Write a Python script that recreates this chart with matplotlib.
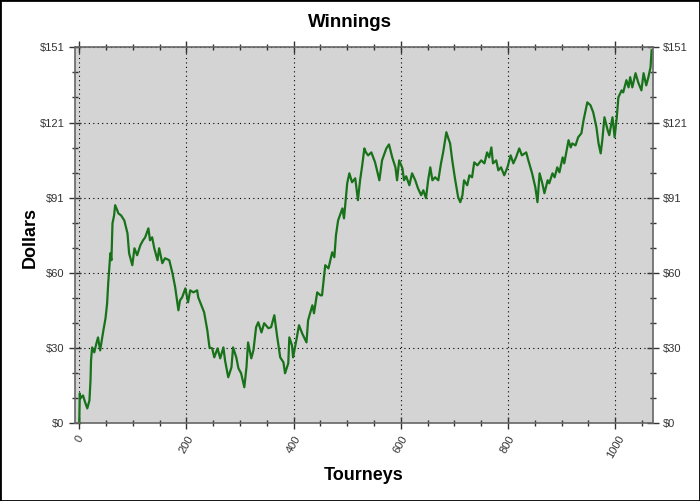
import matplotlib
matplotlib.use("Agg")
import matplotlib.pyplot as plt
from matplotlib.ticker import MultipleLocator, AutoMinorLocator, FuncFormatter
from matplotlib.patches import Rectangle
import numpy as np

# values
tourneys = [0, 1, 2, 7, 11, 15, 19, 21, 22, 24, 28, 32, 35, 39, 45, 49, 52, 54, 58, 60,
            62, 65, 67, 71, 73, 78, 84, 90, 93, 99, 103, 108, 114, 119, 123, 129, 132, 136, 140, 146,
            149, 155, 160, 168, 174, 179, 185, 188, 192, 198, 203, 207, 213, 220, 222, 230, 233, 239, 243, 248,
            252, 258, 263, 269, 272, 278, 284, 287, 293, 297, 302, 308, 312, 315, 321, 325, 330, 334, 340, 345,
            353, 358, 364, 369, 375, 381, 384, 390, 392, 397, 399, 405, 410, 416, 424, 427, 435, 438, 444, 450,
            453, 459, 465, 472, 476, 479, 483, 491, 494, 500, 504, 509, 515, 520, 524, 528, 532, 535, 539, 545,
            552, 560, 565, 573, 578, 584, 590, 593, 597, 603, 606, 610, 616, 621, 627, 632, 638, 642, 647, 651,
            655, 659, 664, 670, 675, 679, 685, 688, 692, 696, 701, 707, 711, 715, 718, 724, 728, 733, 737, 743,
            750, 756, 761, 765, 769, 772, 778, 782, 787, 793, 799, 805, 810, 815, 821, 826, 834, 838, 845, 851,
            855, 859, 864, 868, 874, 877, 883, 887, 892, 896, 902, 905, 913, 917, 920, 926, 931, 937, 941, 948,
            954, 959, 965, 969, 973, 976, 980, 986, 989, 995, 999, 1003, 1006, 1012, 1015, 1021, 1025, 1028, 1032, 1038,
            1043, 1049, 1053, 1058, 1062, 1066, 1068]
dollars = [0, 12.0, 10.0, 11.2, 8.4, 6.0, 9.2, 17.3, 25.3, 30.5, 28.5, 32.1, 34.5, 29.3, 37.3, 42.2, 48.2, 56.2, 68.3, 65.5,
           80.3, 83.5, 87.6, 85.5, 84.3, 83.5, 81.5, 76.3, 68.3, 63.5, 70.3, 67.5, 71.5, 73.5, 74.7, 78.3, 73.5, 74.7, 70.3, 65.5,
           70.3, 64.3, 66.3, 65.5, 60.2, 54.6, 45.4, 49.4, 50.6, 54.2, 48.6, 53.4, 52.6, 53.4, 50.6, 46.2, 44.6, 37.3, 30.5, 30.1,
           26.5, 30.1, 26.1, 30.5, 25.3, 18.5, 22.5, 30.5, 26.5, 22.1, 20.1, 14.5, 22.5, 32.5, 26.1, 29.3, 38.6, 40.6, 36.5, 40.2,
           38.2, 38.6, 43.4, 35.3, 26.5, 24.5, 20.1, 24.1, 34.5, 31.3, 26.5, 33.3, 39.4, 36.1, 32.5, 41.4, 47.4, 44.2, 52.6, 51.4,
           51.4, 63.5, 62.2, 68.7, 66.7, 75.5, 81.5, 86.3, 82.3, 96.4, 100.4, 96.8, 98.4, 89.6, 97.6, 103.6, 110.4, 108.8, 107.6, 108.8,
           104.8, 97.6, 105.6, 110.4, 112.0, 106.8, 102.8, 97.6, 105.6, 102.4, 97.6, 99.2, 95.6, 100.4, 97.6, 94.4, 91.6, 93.6, 90.4, 97.6,
           102.8, 97.6, 98.8, 97.6, 104.4, 108.8, 116.9, 114.9, 112.4, 105.6, 98.4, 90.8, 88.8, 91.6, 97.6, 95.6, 99.6, 98.8, 104.8, 103.6,
           105.6, 104.4, 108.8, 106.8, 110.8, 104.4, 105.6, 101.6, 102.8, 99.6, 102.8, 107.6, 104.4, 106.8, 110.4, 107.6, 108.8, 105.6, 100.4, 94.8,
           88.8, 100.4, 96.4, 92.4, 97.6, 96.4, 100.4, 98.8, 102.8, 100.8, 106.8, 104.4, 113.7, 110.8, 112.4, 111.6, 114.9, 116.5, 121.7, 128.9,
           127.7, 124.9, 118.9, 112.4, 108.4, 113.7, 122.9, 117.7, 115.7, 122.9, 114.9, 122.9, 130.9, 133.7, 132.9, 137.8, 134.9, 139.0, 134.9, 140.6,
           136.9, 133.7, 140.6, 135.7, 139.0, 143.0, 149.8]

y_max = 151
y_ticks = np.linspace(0, y_max, 6)

plt.rcParams['font.family'] = ['Liberation Sans', 'DejaVu Sans']

fig = plt.figure(figsize=(7, 5.01), dpi=100)
ax = fig.add_axes([0.1071, 0.155, 0.8253, 0.7506])
ax.set_facecolor('#d4d4d4')

ax.plot(tourneys, dollars, color='#18721a', linewidth=1.6)

ax.set_xlim(-8, 1070)
ax.set_ylim(0, y_max)
ax.set_yticks(y_ticks)
ax.yaxis.set_major_formatter(FuncFormatter(lambda v, p: f"${v:.0f}"))
ax.yaxis.set_minor_locator(AutoMinorLocator(3))
ax.xaxis.set_major_locator(MultipleLocator(200))
ax.xaxis.set_minor_locator(MultipleLocator(50))

ax.grid(True, which='major', color='black', linestyle=(0, (1, 3)), linewidth=0.8)
ax.set_axisbelow(True)

for s in ax.spines.values():
    s.set_color('#666666')
    s.set_linewidth(1.2)

ax.tick_params(which='both', direction='inout', colors='#333333', labelcolor='#333333',
               top=True, right=True, labelright=True, labelsize=8)
ax.tick_params(which='major', length=8, width=1)
ax.tick_params(which='minor', length=5, width=1)
for lbl in ax.get_xticklabels():
    lbl.set_rotation(60)

fig.text(0.5, 0.955, "Winnings", ha='center', va='center', fontsize=13.5, fontweight='bold')
fig.text(0.043, 0.525, "Dollars", ha='center', va='center', rotation=90, fontsize=13, fontweight='bold')
fig.text(0.52, 0.05, "Tourneys", ha='center', va='center', fontsize=13, fontweight='bold')

fig.patches.append(Rectangle((0, 0), 1, 1, transform=fig.transFigure, fill=False,
                             edgecolor='black', linewidth=2))

fig.savefig("out.png", dpi=100)
